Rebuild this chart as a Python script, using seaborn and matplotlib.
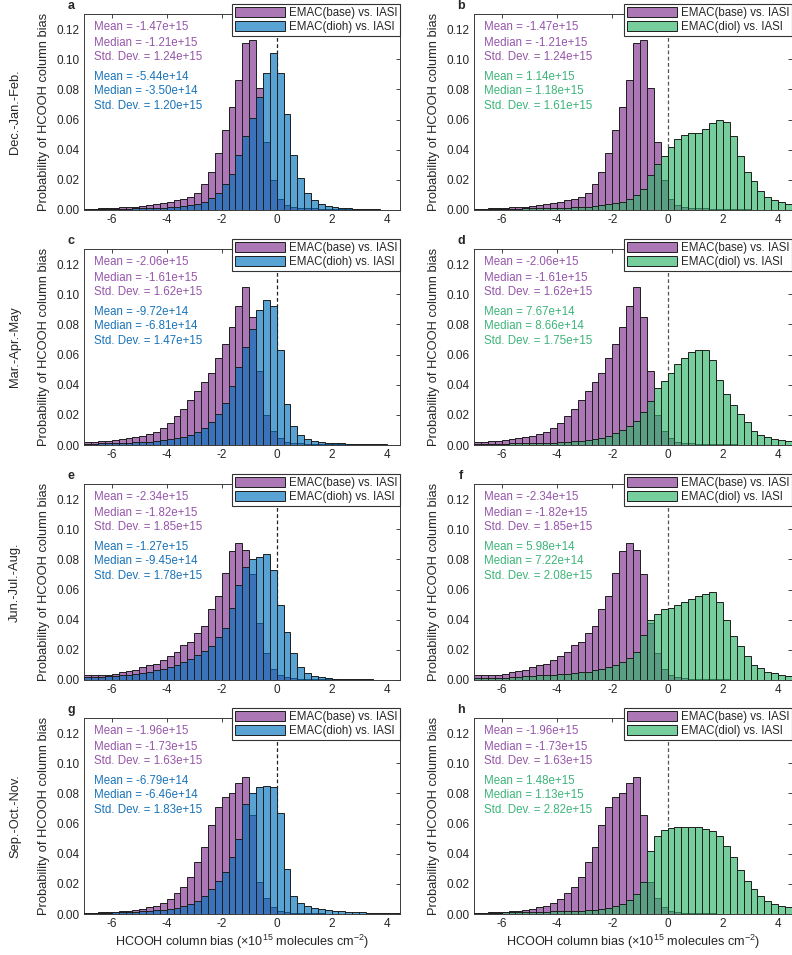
import numpy as np
import pandas as pd
import matplotlib
matplotlib.use("Agg")
import matplotlib.pyplot as plt
from matplotlib.patches import Patch
from matplotlib.colors import to_rgba
from matplotlib.ticker import FormatStrFormatter, MultipleLocator
import seaborn as sns

# ---------------- data (probability per 0.25e15 bin, bins from -7 to 4.5) ----------------
bin_edges = np.arange(-7.0, 4.5001, 0.25)
bin_centers = bin_edges[:-1] + 0.125

base_djf = [0.0007, 0.0009, 0.0011, 0.0013, 0.0015, 0.0018, 0.0020, 0.0022, 0.0027, 0.0030,
            0.0038, 0.0046, 0.0055, 0.0066, 0.0070, 0.0088, 0.0115, 0.0175, 0.0250, 0.0376,
            0.0530, 0.0680, 0.0860, 0.1110, 0.1130, 0.0810, 0.0450, 0.0200, 0.0070, 0.0030,
            0.0020, 0.0015, 0.0012, 0.0010, 0.0008, 0.0007, 0.0006, 0.0005, 0.0004, 0.0004,
            0.0003, 0.0003, 0.0002, 0.0002, 0.0002, 0.0001]
dioh_djf = [0.0003, 0.0004, 0.0005, 0.0006, 0.0007, 0.0008, 0.0009, 0.0010, 0.0011, 0.0012,
            0.0013, 0.0015, 0.0017, 0.0020, 0.0025, 0.0030, 0.0040, 0.0055, 0.0077, 0.0115,
            0.0170, 0.0240, 0.0365, 0.0490, 0.0610, 0.0750, 0.0910, 0.1040, 0.0910, 0.0640,
            0.0365, 0.0210, 0.0110, 0.0066, 0.0040, 0.0027, 0.0020, 0.0015, 0.0011, 0.0009,
            0.0007, 0.0005, 0.0004, 0.0003, 0.0003, 0.0002]
diol_djf = [0.0003, 0.0004, 0.0005, 0.0006, 0.0007, 0.0008, 0.0009, 0.0010, 0.0011, 0.0012,
            0.0013, 0.0014, 0.0015, 0.0016, 0.0018, 0.0020, 0.0022, 0.0025, 0.0030, 0.0038,
            0.0044, 0.0055, 0.0070, 0.0100, 0.0138, 0.0233, 0.0307, 0.0355, 0.0416, 0.0470,
            0.0498, 0.0510, 0.0513, 0.0540, 0.0575, 0.0600, 0.0586, 0.0490, 0.0360, 0.0254,
            0.0195, 0.0128, 0.0088, 0.0066, 0.0050, 0.0040]

base_mam = [0.0020, 0.0022, 0.0024, 0.0027, 0.0031, 0.0038, 0.0044, 0.0051, 0.0062, 0.0073,
            0.0089, 0.0110, 0.0144, 0.0190, 0.0238, 0.0300, 0.0360, 0.0420, 0.0480, 0.0580,
            0.0667, 0.0780, 0.0920, 0.1050, 0.0850, 0.0490, 0.0200, 0.0090, 0.0044, 0.0020,
            0.0013, 0.0010, 0.0008, 0.0007, 0.0006, 0.0005, 0.0004, 0.0004, 0.0003, 0.0003,
            0.0003, 0.0002, 0.0002, 0.0002, 0.0001, 0.0001]
dioh_mam = [0.0008, 0.0009, 0.0010, 0.0011, 0.0012, 0.0014, 0.0016, 0.0018, 0.0020, 0.0023,
            0.0027, 0.0031, 0.0038, 0.0044, 0.0056, 0.0069, 0.0089, 0.0116, 0.0150, 0.0204,
            0.0278, 0.0390, 0.0520, 0.0650, 0.0767, 0.0896, 0.0960, 0.0920, 0.0630, 0.0270,
            0.0125, 0.0067, 0.0040, 0.0027, 0.0020, 0.0015, 0.0012, 0.0010, 0.0008, 0.0007,
            0.0006, 0.0005, 0.0004, 0.0004, 0.0003, 0.0003]
diol_mam = [0.0005, 0.0006, 0.0007, 0.0008, 0.0009, 0.0010, 0.0011, 0.0012, 0.0013, 0.0014,
            0.0015, 0.0016, 0.0018, 0.0020, 0.0024, 0.0029, 0.0033, 0.0040, 0.0049, 0.0062,
            0.0078, 0.0100, 0.0129, 0.0160, 0.0216, 0.0290, 0.0380, 0.0427, 0.0480, 0.0538,
            0.0578, 0.0618, 0.0633, 0.0633, 0.0567, 0.0433, 0.0338, 0.0262, 0.0204, 0.0151,
            0.0096, 0.0067, 0.0051, 0.0040, 0.0033, 0.0027]

base_jja = [0.0033, 0.0033, 0.0034, 0.0035, 0.0040, 0.0051, 0.0058, 0.0069, 0.0084, 0.0100,
            0.0106, 0.0133, 0.0157, 0.0184, 0.0235, 0.0250, 0.0310, 0.0360, 0.0470, 0.0560,
            0.0710, 0.0856, 0.0910, 0.0865, 0.0700, 0.0380, 0.0180, 0.0071, 0.0033, 0.0018,
            0.0012, 0.0009, 0.0007, 0.0006, 0.0005, 0.0004, 0.0004, 0.0003, 0.0003, 0.0003,
            0.0002, 0.0002, 0.0002, 0.0002, 0.0001, 0.0001]
dioh_jja = [0.0018, 0.0020, 0.0022, 0.0024, 0.0027, 0.0031, 0.0035, 0.0040, 0.0047, 0.0053,
            0.0064, 0.0073, 0.0084, 0.0100, 0.0117, 0.0140, 0.0166, 0.0195, 0.0228, 0.0288,
            0.0346, 0.0480, 0.0627, 0.0750, 0.0800, 0.0816, 0.0838, 0.0727, 0.0497, 0.0320,
            0.0180, 0.0088, 0.0044, 0.0029, 0.0020, 0.0013, 0.0009, 0.0007, 0.0005, 0.0005,
            0.0004, 0.0004, 0.0003, 0.0003, 0.0002, 0.0002]
diol_jja = [0.0012, 0.0013, 0.0014, 0.0015, 0.0016, 0.0018, 0.0020, 0.0025, 0.0027, 0.0030,
            0.0032, 0.0035, 0.0038, 0.0042, 0.0047, 0.0051, 0.0055, 0.0064, 0.0073, 0.0084,
            0.0100, 0.0117, 0.0144, 0.0184, 0.0300, 0.0400, 0.0440, 0.0470, 0.0477, 0.0500,
            0.0517, 0.0535, 0.0557, 0.0572, 0.0583, 0.0517, 0.0400, 0.0290, 0.0228, 0.0157,
            0.0102, 0.0078, 0.0051, 0.0044, 0.0035, 0.0029]

base_son = [0.0007, 0.0008, 0.0010, 0.0012, 0.0015, 0.0018, 0.0022, 0.0027, 0.0033, 0.0044,
            0.0056, 0.0073, 0.0100, 0.0140, 0.0178, 0.0244, 0.0344, 0.0444, 0.0593, 0.0711,
            0.0773, 0.0800, 0.0867, 0.0910, 0.0656, 0.0210, 0.0104, 0.0044, 0.0020, 0.0012,
            0.0008, 0.0006, 0.0005, 0.0004, 0.0004, 0.0003, 0.0003, 0.0003, 0.0002, 0.0002,
            0.0002, 0.0002, 0.0001, 0.0001, 0.0001, 0.0001]
dioh_son = [0.0006, 0.0007, 0.0008, 0.0009, 0.0010, 0.0012, 0.0014, 0.0016, 0.0019, 0.0022,
            0.0025, 0.0029, 0.0033, 0.0040, 0.0051, 0.0067, 0.0089, 0.0122, 0.0167, 0.0222,
            0.0278, 0.0378, 0.0500, 0.0727, 0.0800, 0.0844, 0.0850, 0.0844, 0.0670, 0.0300,
            0.0122, 0.0073, 0.0051, 0.0040, 0.0033, 0.0027, 0.0022, 0.0018, 0.0015, 0.0012,
            0.0010, 0.0008, 0.0007, 0.0006, 0.0005, 0.0004]
diol_son = [0.0006, 0.0007, 0.0008, 0.0009, 0.0010, 0.0011, 0.0012, 0.0013, 0.0014, 0.0015,
            0.0016, 0.0017, 0.0018, 0.0019, 0.0020, 0.0022, 0.0025, 0.0029, 0.0035, 0.0042,
            0.0052, 0.0067, 0.0095, 0.0135, 0.0210, 0.0420, 0.0520, 0.0560, 0.0570, 0.0575,
            0.0580, 0.0580, 0.0575, 0.0565, 0.0550, 0.0515, 0.0450, 0.0380, 0.0290, 0.0220,
            0.0167, 0.0118, 0.0089, 0.0067, 0.0051, 0.0044]

seasons = ["Dec.-Jan.-Feb.", "Mar.-Apr.-May", "Jun.-Jul.-Aug.", "Sep.-Oct.-Nov."]
base_series = [base_djf, base_mam, base_jja, base_son]
dioh_series = [dioh_djf, dioh_mam, dioh_jja, dioh_son]
diol_series = [diol_djf, diol_mam, diol_jja, diol_son]

base_stats = [["-1.47e+15", "-1.21e+15", "1.24e+15"],
              ["-2.06e+15", "-1.61e+15", "1.62e+15"],
              ["-2.34e+15", "-1.82e+15", "1.85e+15"],
              ["-1.96e+15", "-1.73e+15", "1.63e+15"]]
dioh_stats = [["-5.44e+14", "-3.50e+14", "1.20e+15"],
              ["-9.72e+14", "-6.81e+14", "1.47e+15"],
              ["-1.27e+15", "-9.45e+14", "1.78e+15"],
              ["-6.79e+14", "-6.46e+14", "1.83e+15"]]
diol_stats = [["1.14e+15", "1.18e+15", "1.61e+15"],
              ["7.67e+14", "8.66e+14", "1.75e+15"],
              ["5.98e+14", "7.22e+14", "2.08e+15"],
              ["1.48e+15", "1.13e+15", "2.82e+15"]]

panel_letters = [["a", "b"], ["c", "d"], ["e", "f"], ["g", "h"]]
label_base = "EMAC(base) vs. IASI"
label_dioh = "EMAC(dioh) vs. IASI"
label_diol = "EMAC(diol) vs. IASI"
xticks = [-6, -4, -2, 0, 2, 4]

# ---------------- style ----------------
sns.set_theme(style="white")
plt.rcParams['font.family'] = ['Liberation Sans', 'DejaVu Sans']
plt.rcParams['axes.unicode_minus'] = False
plt.rcParams['mathtext.default'] = 'regular'

c_base = "#7E2F8E"
c_dioh = "#0072BD"
c_diol = "#2FB469"
t_base = "#9655AA"
t_dioh = "#1973B9"
t_diol = "#3CB478"
edge_c = "#1E1E1E"
axis_c = "#262626"
ALPHA = 0.65

W, H = 792, 955
fig = plt.figure(figsize=(W / 100, H / 100), dpi=100)

col_x = [84.3, 474.0]
col_w = [316.0, 318.0]
row_bottom = [210.0, 445.0, 680.0, 914.0]
ax_h = 196.0

text_y = [0.934, 0.853, 0.783, 0.678, 0.606, 0.529]


def hist(ax, values, **kw):
    df = pd.DataFrame({"bias": bin_centers, "prob": np.asarray(values, dtype=float)})
    sns.histplot(data=df, x="bias", weights="prob", binwidth=0.25,
                 binrange=(bin_edges[0], bin_edges[-1]), stat="count", ax=ax, **kw)


for r in range(4):
    for c in range(2):
        ax = fig.add_axes([col_x[c] / W, 1 - row_bottom[r] / H, col_w[c] / W, ax_h / H])
        base = np.array(base_series[r])
        if c == 0:
            other = np.array(dioh_series[r]); oc = c_dioh; tc = t_dioh
            ostats = dioh_stats[r]; olabel = label_dioh; lc = "#222222"
        else:
            other = np.array(diol_series[r]); oc = c_diol; tc = t_diol
            ostats = diol_stats[r]; olabel = label_diol; lc = "#555555"

        ax.axvline(0, color=lc, lw=0.9, ls=(0, (3, 2)), zorder=1)
        hist(ax, np.maximum(base, other), color="white", alpha=1.0,
             edgecolor="none", linewidth=0, zorder=1.5)
        hist(ax, base, color=c_base, alpha=ALPHA, edgecolor=edge_c, linewidth=0.7, zorder=2)
        hist(ax, other, color=oc, alpha=ALPHA, edgecolor=edge_c, linewidth=0.7, zorder=3)

        ax.set_xlim(-7, 4.5)
        ax.set_ylim(0, 0.13)
        ax.set_xticks(xticks)
        ax.yaxis.set_major_locator(MultipleLocator(0.02))
        ax.yaxis.set_major_formatter(FormatStrFormatter('%.2f'))
        ax.tick_params(direction='in', length=3, width=0.6, top=True, right=True,
                       labelsize=8.5, colors=axis_c, pad=3.2)
        for sp in ax.spines.values():
            sp.set_color("#3a3a3a")
            sp.set_linewidth(0.7)

        ax.set_ylabel("Probability of HCOOH column bias", fontsize=9.3, color=axis_c)
        ax.yaxis.set_label_coords(-0.108, 0.5)
        if r == 3:
            ax.set_xlabel("HCOOH column bias ($\\times$10$^{15}$ molecules cm$^{-2}$)",
                          fontsize=9.1, color=axis_c, labelpad=2)
        else:
            ax.set_xlabel("")

        names = ["Mean = ", "Median = ", "Std. Dev. = "]
        for i in range(3):
            ax.text(0.032, text_y[i], names[i] + base_stats[r][i], transform=ax.transAxes,
                    color=t_base, fontsize=8.3, ha='left', va='center', zorder=6)
            ax.text(0.032, text_y[i + 3], names[i] + ostats[i], transform=ax.transAxes,
                    color=tc, fontsize=8.3, ha='left', va='center', zorder=6)

        handles = [Patch(facecolor=to_rgba(c_base, ALPHA), edgecolor=edge_c, linewidth=0.7),
                   Patch(facecolor=to_rgba(oc, ALPHA), edgecolor=edge_c, linewidth=0.7)]
        leg = ax.legend(handles, [label_base, olabel], loc='upper right',
                        bbox_to_anchor=(1.0, 1.05), frameon=True, fancybox=False,
                        fontsize=8.3, handlelength=4.3, handleheight=1.0,
                        handletextpad=0.35, labelspacing=0.15, borderpad=0.25,
                        borderaxespad=0.0, framealpha=1.0)
        leg.get_frame().set_edgecolor("#333333")
        leg.get_frame().set_linewidth(0.8)
        leg.set_zorder(10)

        ax.text(-0.041, 1.04, panel_letters[r][c], transform=ax.transAxes,
                fontweight='bold', fontsize=9, ha='center', va='center')

    yc = 1 - (row_bottom[r] - ax_h / 2) / H
    fig.text(15 / W, yc, seasons[r], rotation=90, ha='center', va='center',
             fontsize=9.3, color=axis_c)

fig.savefig("out.png", dpi=100)
